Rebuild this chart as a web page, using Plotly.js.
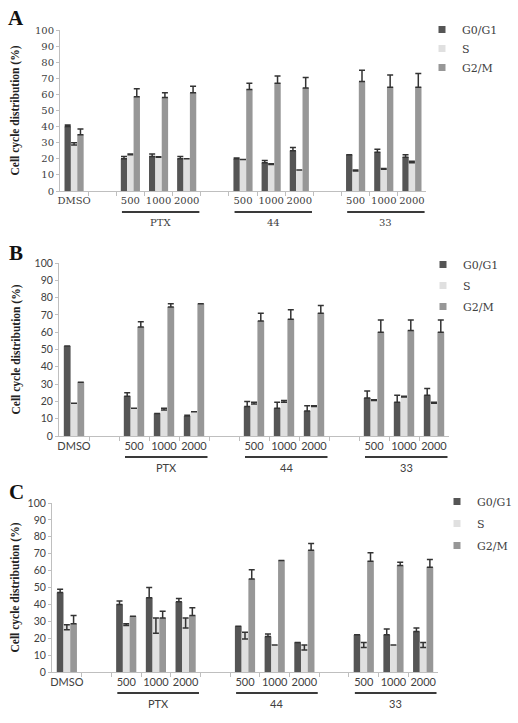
<!DOCTYPE html>
<html><head><meta charset="utf-8">
<script src="https://cdn.plot.ly/plotly-3.0.1.min.js"></script>
<style>html,body{margin:0;padding:0;background:#fff}#chart{width:518px;height:723px}</style>
</head><body><div id="chart"></div>
<script>
// ---- data ----
const categories = ['DMSO','500','1000','2000','500','1000','2000','500','1000','2000'];
const groups     = ['', 'PTX','PTX','PTX','44','44','44','33','33','33'];
const groupNames = ['PTX','44','33'];
const seriesNames = ['G0/G1','S','G2/M'];
const panelLabels = ['A','B','C'];
const yTitle = 'Cell cycle distribution (%)';
const yTicks = [0,10,20,30,40,50,60,70,80,90,100];

// Panel A (mean, error)
const a_g0     = [40, 20, 21.5, 20, 20, 17.5, 25, 22.5, 24, 21];
const a_g0_err = [1, 1.5, 1.5, 1.5, 0.5, 1.5, 2, 0, 2, 1.5];
const a_s      = [28.5, 22.5, 21, 20, 19.5, 16.5, 13, 12.5, 13.5, 17.5];
const a_s_err  = [1.5, 0.5, 0.3, 0, 0, 0.5, 0, 0.5, 0.5, 1];
const a_g2     = [35, 58.5, 58, 61, 63, 67, 64, 68, 64.5, 64.5];
const a_g2_err = [3.5, 5, 3, 4, 4, 4.5, 6.5, 7, 7.5, 8.5];

// Panel B
const b_g0     = [52, 23, 13, 11.5, 17, 16, 14.5, 22, 19.5, 23.5];
const b_g0_err = [0, 2, 0, 0.5, 3, 3.5, 3, 4, 4, 4];
const b_s      = [19, 16, 15, 14, 18.5, 19.5, 17, 20.5, 22.5, 19];
const b_s_err  = [0, 0, 1, 0, 1, 1, 0.5, 0.5, 0.5, 0.5];
const b_g2     = [31, 63, 74.5, 76.5, 66.5, 67.5, 71, 60, 61, 60];
const b_g2_err = [0, 3, 2, 0, 4.5, 5.5, 4.5, 7, 6, 7];

// Panel C
const c_g0     = [47, 40, 44, 41.5, 27, 21, 17.5, 22, 22, 24];
const c_g0_err = [2, 2, 6, 2, 0, 1.5, 0, 0, 3.5, 2];
const c_s      = [28, 28.5, 32, 32, 23.5, 16, 16, 17.5, 16, 17.5];
const c_s_err  = [3, 1, 9, 6, 4, 0, 3, 3, 0, 3];
const c_g2     = [28.5, 33, 32, 33.5, 55, 66, 72, 65.5, 63, 62];
const c_g2_err = [5, 0, 4, 4.5, 5.5, 0, 4, 5, 2, 4.5];

// [values, errors, errors drawn downward?]
const panelData = [
  [[a_g0, a_g0_err, false], [a_s, a_s_err, false], [a_g2, a_g2_err, false]],
  [[b_g0, b_g0_err, false], [b_s, b_s_err, false], [b_g2, b_g2_err, false]],
  [[c_g0, c_g0_err, false], [c_s, c_s_err, true],  [c_g2, c_g2_err, false]]
];

// ---- styling ----
const W = 518, H = 723;
const colors = ['#555555', '#e0e0e0', '#979797'];
const axisGrey = '#bfbfbf';
const txt = '#404040';
// plot boxes in pixels: [left, right, top, bottom]
const boxes = [[60, 426, 30, 191], [59, 449, 263, 436], [52, 438, 503, 672]];
const legendPos = [[422, 15], [423, 250], [437, 487]];
const legendGap = [0, 2, 3];
const letterY = [18, 253, 492];
const standoffs = [12, 11, 5];
const tickFonts = [
  {family: 'DejaVu Serif', size: 10, color: txt},
  {family: 'Lato', size: 10.5, color: txt},
  {family: 'Lato', size: 10.5, color: txt}
];
const xFonts = [
  {family: 'DejaVu Serif', size: 10, color: txt},
  {family: 'Lato', size: 11, color: txt},
  {family: 'Lato', size: 11, color: txt}
];

const groupIndex = g => g === '' ? 0 : groupNames.indexOf(g) + 1;
const xpos = categories.map((c, i) => i + groupIndex(groups[i]));
const nSlots = xpos[xpos.length - 1] + 1;
const boundaries = Array.from({length: nSlots - 1}, (_, k) => k + 0.5);

const traces = [];
const layout = {
  width: W, height: H,
  margin: {l: 0, r: 0, t: 0, b: 0},
  paper_bgcolor: '#fff', plot_bgcolor: '#fff',
  barmode: 'group', bargap: 0.32, bargroupgap: 0,
  showlegend: true,
  shapes: [], annotations: []
};

panelData.forEach((series, p) => {
  const sfx = p === 0 ? '' : String(p + 1);
  const xa = 'x' + sfx, ya = 'y' + sfx;
  const leg = 'legend' + sfx;
  series.forEach(([vals, errs, down], s) => {
    const zeros = errs.map(() => 0);
    traces.push({
      type: 'bar', name: seriesNames[s], x: xpos, y: vals,
      xaxis: xa, yaxis: ya, showlegend: false,
      marker: {color: colors[s], line: {width: 0}},
      error_y: {type: 'data', symmetric: false,
                array: down ? zeros : errs, arrayminus: down ? errs : zeros,
                visible: true, color: '#333', thickness: 1.5, width: 3},
      hoverinfo: 'y'
    });
  });
  // legend entries (small square keys, as in the reference)
  seriesNames.forEach((nm, s) => {
    traces.push({
      type: 'scatter', mode: 'markers', name: nm, x: [null], y: [null],
      xaxis: xa, yaxis: ya, legend: leg, legendgroup: 'p' + p + 's' + s,
      marker: {symbol: 'square', size: 7, color: colors[s]}
    });
  });
  const [l, r, t, b] = boxes[p];
  layout['xaxis' + sfx] = {
    domain: [l / W, r / W], anchor: ya, range: [-0.5, nSlots - 0.5],
    tickvals: xpos, ticktext: categories, ticks: '',
    minor: {tickvals: boundaries, ticks: 'outside', ticklen: 4, tickcolor: axisGrey, showgrid: false},
    showline: true, linecolor: axisGrey, linewidth: 1,
    showgrid: false, zeroline: false, tickfont: xFonts[p], fixedrange: true
  };
  layout['yaxis' + sfx] = {
    domain: [1 - b / H, 1 - t / H], anchor: xa, range: [0, 100],
    tickvals: yTicks, ticks: 'outside', ticklen: 3, tickcolor: axisGrey,
    showline: true, linecolor: axisGrey, linewidth: 1,
    showgrid: false, zeroline: false, tickfont: tickFonts[p], fixedrange: true,
    title: {text: yTitle, font: {family: 'Liberation Serif', size: 11.5, color: '#222', weight: 'bold'}, standoff: standoffs[p]}
  };
  layout[leg] = {
    x: legendPos[p][0] / W, y: 1 - legendPos[p][1] / H, xanchor: 'left', yanchor: 'top',
    font: {family: 'DejaVu Serif', size: 11, color: txt},
    bgcolor: 'rgba(0,0,0,0)', traceorder: 'grouped', tracegroupgap: legendGap[p]
  };
  // panel letter
  layout.annotations.push({
    xref: 'paper', yref: 'paper', x: 16 / W, y: 1 - letterY[p] / H, yanchor: 'middle', xanchor: 'center',
    text: '<b>' + panelLabels[p] + '</b>', showarrow: false,
    font: {family: 'Liberation Serif', size: 21, color: '#111'}
  });
  // group underlines + labels
  groupNames.forEach(g => {
    const ps = xpos.filter((x, i) => groups[i] === g);
    const x0 = Math.min(...ps) - 0.3, x1 = Math.max(...ps) + 0.45;
    const yLine = 1 - (b + 21) / H;
    layout.shapes.push({
      type: 'line', xref: xa, yref: 'paper',
      x0: x0, x1: x1, y0: yLine, y1: yLine, line: {color: '#3a3a3a', width: 2}
    });
    layout.annotations.push({
      xref: xa, yref: 'paper', x: (x0 + x1) / 2, y: 1 - (b + 31) / H, yanchor: 'middle',
      text: g, showarrow: false, font: xFonts[p]
    });
  });
});

Plotly.newPlot('chart', traces, layout, {staticPlot: true});
</script></body></html>
